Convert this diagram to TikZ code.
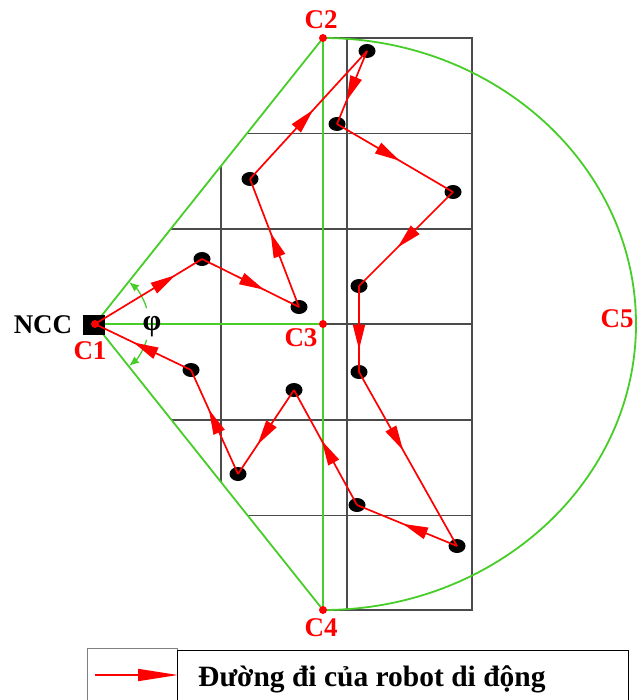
\documentclass[tikz,border=0pt]{standalone}
\usepackage{fontspec}
\setmainfont{Liberation Serif}
\usetikzlibrary{arrows.meta,decorations.markings,shapes.geometric}
\definecolor{zonegreen}{RGB}{70,205,40}
\definecolor{gridgray}{RGB}{75,75,75}
\begin{document}
\begin{tikzpicture}[x=1pt, y=-1pt,
        gridln/.style={draw=gridgray, line width=1.3pt},
        zoneln/.style={draw=zonegreen, line width=1.8pt},
        ptlbl/.style={font=\bfseries\fontsize{27}{30}\selectfont, text=red, inner sep=0pt},
        blklbl/.style={font=\bfseries\fontsize{27}{30}\selectfont, inner sep=0pt},
        waypt/.style={ellipse, fill=black, minimum width=17pt, minimum height=14pt, inner sep=0pt},
        robotpath/.style={draw=red, line width=1.7pt},
        midarrow/.style={postaction={decorate, decoration={markings,
            mark=at position #1 with {\arrow{Triangle[length=25pt,width=12pt]}}}}},
        anglearc/.style={draw=zonegreen, line width=1.3pt}
      ]
      \useasboundingbox (0,0) rectangle (637,700);
      % zone corners
      \coordinate (c1) at (95,324);
      \coordinate (c2) at (323,38);
      \coordinate (c3) at (323,324);
      \coordinate (c4) at (323,610);
      % grid
      \draw[gridln] (c2) -- (472,38) -- (472,610) -- (c4);
      \draw[gridln] (347,38) -- (347,610);
      \draw[gridln] (221,166) -- (221,482);
      \foreach \y/\xl in {133.5/247, 229/171, 324/323, 420/171, 515.5/247}{
        \draw[gridln] (\xl,\y) -- (472,\y);
      }
      % sensing zone
      \draw[zoneln] (c2) -- (c1) -- (c4);
      \draw[zoneln] (c1) -- (c3);
      \draw[zoneln] (c2) -- (c4);
      \draw[zoneln] (c2) arc[start angle=-90, end angle=90, x radius=313, y radius=286];
      \draw[anglearc, {Latex[length=10pt,width=8pt]}-]
        ([shift={(-51:54)}]c1) arc[start angle=-51, end angle=-17, radius=54];
      \draw[anglearc, -{Latex[length=10pt,width=8pt]}]
        ([shift={(17:54)}]c1) arc[start angle=17, end angle=51, radius=54];
      % charging station
      \node[fill=black, minimum width=22pt, minimum height=20pt, inner sep=0pt] (ncc) at (94,325) {};
      \foreach \c in {c1,c2,c3,c4}{
        \fill[red] (\c) circle[radius=4];
      }
      \node[blklbl] (ncclbl) at (43,325) {NCC};
      \node[blklbl, font=\bfseries\fontsize{30}{30}\selectfont] (philbl) at (152,327) {φ};
      \node[ptlbl] (c1lbl) at (90,351) {C1};
      \node[ptlbl] (c2lbl) at (321,20) {C2};
      \node[ptlbl] (c3lbl) at (301,338) {C3};
      \node[ptlbl] (c4lbl) at (321,628) {C4};
      \node[ptlbl] (c5lbl) at (617,319) {C5};
      % waypoints
      \foreach \n/\px/\py in {1/202/259, 2/299/307, 3/250/179, 4/367/51, 5/337/124,
        6/453/192, 7/359/286, 8/359/372, 9/457/546, 10/357/505, 11/294/390,
        12/238/474, 13/191/370}{
        \node[waypt] (p\n) at (\px,\py) {};
      }
      % robot route
      \foreach \a/\b/\pos in {c1/p1/0.75, p1/p2/0.64, p2/p3/0.58, p3/p4/0.54,
        p4/p5/0.68, p5/p6/0.54, p6/p7/0.59, p7/p8/0.74, p8/p9/0.45, p9/p10/0.54,
        p10/p11/0.56, p11/p12/0.65, p12/p13/0.62, p13/c1/0.6}{
        \draw[robotpath, midarrow=\pos] (\a.center) -- (\b.center);
      }
      % legend
      \node[draw=gray, line width=1pt, anchor=north west, minimum width=90pt,
        minimum height=64pt, inner sep=0pt] (lgkey) at (87,648) {};
      \node[draw=black, line width=1.2pt, anchor=north west, minimum width=451pt,
        minimum height=64pt, inner sep=0pt] (lgbox) at (177,650) {};
      \coordinate (lgstart) at (95,675);
      \draw[robotpath, -{Triangle[length=40pt,width=12pt]}] (lgstart) -- (lgkey.east |- lgstart);
      \node[font=\bfseries\fontsize{29.5}{34}\selectfont, anchor=base west, inner sep=0pt]
        (lgtxt) at (198,686) {Đường đi của robot di động};
    \end{tikzpicture}
\end{document}
